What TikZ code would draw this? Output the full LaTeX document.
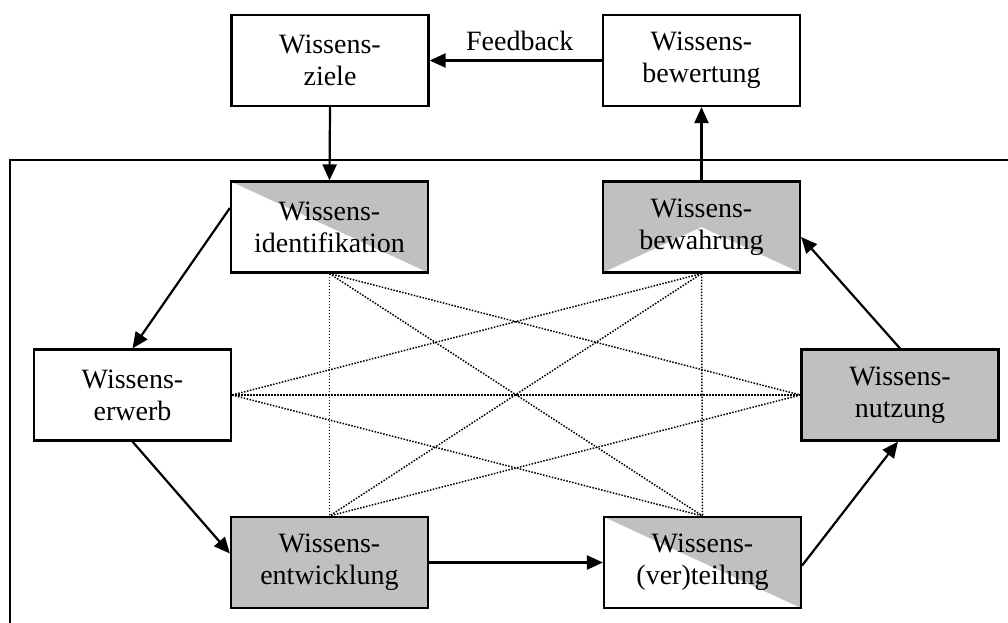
\documentclass[tikz,border=0pt]{standalone}
\usepackage{fontspec}
\setmainfont{Liberation Serif}
\usetikzlibrary{arrows.meta,calc}
\definecolor{boxgray}{RGB}{192,192,192}
\begin{document}
\begin{tikzpicture}[x=1pt,y=-1pt,
  box/.style={draw=black, line width=2.2pt, fill=white, minimum width=197pt,
    minimum height=91pt, inner sep=0pt, align=center,
    font=\fontsize{28}{32}\selectfont},
  graybox/.style={box, fill=boxgray},
  diaghalf/.style={box, path picture={
    \fill[boxgray] (path picture bounding box.north west) --
      (path picture bounding box.north east) --
      (path picture bounding box.south east) -- cycle;}},
  wedgehalf/.style={box, path picture={
    \fill[boxgray] (path picture bounding box.south west) --
      (path picture bounding box.north west) --
      (path picture bounding box.north east) --
      (path picture bounding box.south east) --
      (path picture bounding box.center) -- cycle;}},
  flow/.style={line width=2.2pt, -{Triangle[length=16pt,width=14pt]}},
  link/.style={line width=1.5pt, dash pattern=on 1.5pt off 1.5pt},
]
\useasboundingbox (0,0) rectangle (1008,622);

% open frame around the core processes
\draw[line width=2.2pt] (10,640) -- (10,160) -- (1030,160);

% boxes
\node[box] (ziele) at (330,60.5) {Wissens-\\ziele};
\node[box] (bewert) at (701.5,60.5) {Wissens-\\bewertung};
\node[diaghalf] (ident) at (329.5,227) {Wissens-\\identifikation};
\node[wedgehalf] (bewahr) at (701.5,227) {Wissens-\\bewahrung};
\node[box] (erwerb) at (132.5,395) {Wissens-\\erwerb};
\node[graybox] (nutz) at (900,395) {Wissens-\\nutzung};
\node[graybox] (entw) at (329.5,562.5) {Wissens-\\entwicklung};
\node[diaghalf] (vert) at (702.5,562.5) {Wissens-\\(ver)teilung};

% dotted cross links
\draw[link] (ident.south) -- (entw.north);
\draw[link] (bewahr.south) -- (vert.north);
\draw[link] (erwerb.east) -- (nutz.west);
\draw[link] (ident.south) -- (nutz.west);
\draw[link] (ident.south) -- (vert.north);
\draw[link] (bewahr.south) -- (erwerb.east);
\draw[link] (bewahr.south) -- (entw.north);
\draw[link] (erwerb.east) -- (vert.north);
\draw[link] (nutz.west) -- (entw.north);

% process flow
\draw[flow] (ziele.south) -- (ident.north);
\draw[flow] (bewahr.north) -- (bewert.south);
\draw[flow] (bewert.west) -- node[above=9pt, inner sep=0pt, xshift=4pt,
  font=\fontsize{28}{32}\selectfont] {Feedback} (ziele.east);
\draw[flow] ([yshift=19pt]ident.west) -- (erwerb.north);
\draw[flow] (erwerb.south) -- ([yshift=9pt]entw.west);
\draw[flow] (entw.east) -- (vert.west);
\draw[flow] ([yshift=-3pt]vert.east) -- ([xshift=-2pt]nutz.south);
\draw[flow] (nutz.north) -- ([yshift=-10pt]bewahr.east);
\end{tikzpicture}
\end{document}
